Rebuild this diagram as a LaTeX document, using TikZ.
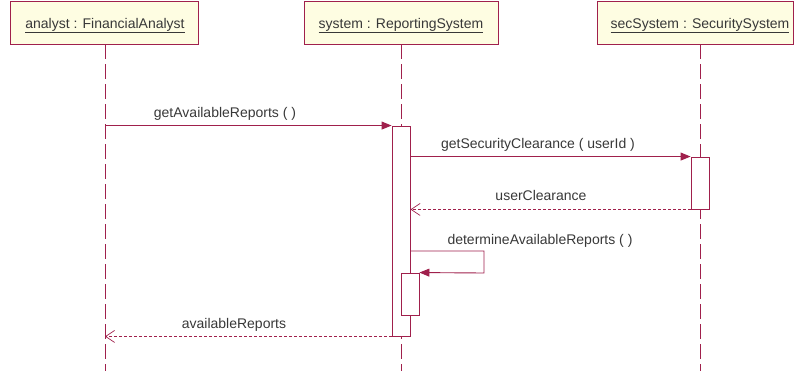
\documentclass[tikz,border=0pt]{standalone}
\usepackage{fontspec}
\setmainfont{Liberation Sans}
\usetikzlibrary{arrows.meta}
\definecolor{umlred}{HTML}{A0204C}
\definecolor{umlfill}{HTML}{FEFDE2}
\definecolor{umltext}{HTML}{383838}
\tikzset{
  hdrbox/.style={draw=umlred, fill=umlfill, line width=0.9pt, inner sep=0pt, minimum height=43pt},
  hdrtext/.style={anchor=base, inner sep=0pt, text=umltext, font=\fontsize{14}{16}\selectfont},
  lifeline/.style={draw=umlred, line width=0.9pt, dash pattern=on 15pt off 5pt},
  actbox/.style={draw=umlred, fill=white, line width=0.9pt, inner sep=0pt, minimum width=18pt},
  sync/.style={draw=umlred, line width=0.9pt, -{Triangle[length=10pt,width=8pt]}},
  reply/.style={draw=umlred, line width=0.8pt, dash pattern=on 3pt off 2pt, -{Straight Barb[length=9pt,width=12pt,line width=0.7pt]}},
  msg/.style={anchor=base, inner sep=0pt, text=umltext, font=\fontsize{14}{16}\selectfont},
}
\begin{document}
\begin{tikzpicture}[x=1pt,y=-1pt]
\useasboundingbox (0,0) rectangle (794,370);
% header boxes
\node[hdrbox, minimum width=188pt] (b1) at (104,22.5) {};
\node[hdrbox, minimum width=194pt] (b2) at (401,22.5) {};
\node[hdrbox, minimum width=196pt] (b3) at (695,22.5) {};
\node[hdrtext] (t1) at (105,28) {\underline{analyst : FinancialAnalyst}};
\node[hdrtext] (t2) at (401,28) {\underline{system : ReportingSystem}};
\node[hdrtext] (t3) at (700,28) {\underline{secSystem : SecuritySystem}};
% lifeline ends
\coordinate (e1) at (105,372);
\coordinate (e2) at (401,372);
\coordinate (e3) at (700,372);
\coordinate (s1) at (105,44);
\coordinate (s2) at (401,44);
\coordinate (s3) at (700,44);
\draw[lifeline] (s1) -- (e1);
\draw[lifeline] (s2) -- (e2);
\draw[lifeline] (s3) -- (e3);
% activations
\node[actbox, minimum height=210pt] (a1) at (401,231) {};
\node[actbox, minimum height=52pt] (a2) at (700,183) {};
\node[actbox, minimum height=42pt] (a3) at (410,294) {};
% messages
\draw[sync] (s1 |- a1.north west) -- (a1.north west);
\node[msg] (l1) at (225,117) {getAvailableReports ( )};
\draw[sync] (a1.east |- a2.north west) -- (a2.north west);
\node[msg] (l2) at (538,148) {getSecurityClearance ( userId )};
\draw[reply] (a2.south west) -- (a1.east |- a2.south west);
\node[msg] (l3) at (541,200) {userClearance};
\coordinate (sc1) at (410,251);
\coordinate (sc2) at (484,251);
\coordinate (sc3) at (484,273);
\draw[sync] (sc1) -- (sc2) -- (sc3) -- (a3.north east);
\node[msg] (l4) at (540,244) {determineAvailableReports ( )};
\draw[reply] (a1.south west) -- (s1 |- a1.south west);
\node[msg] (l5) at (234,328) {availableReports};
\end{tikzpicture}
\end{document}
